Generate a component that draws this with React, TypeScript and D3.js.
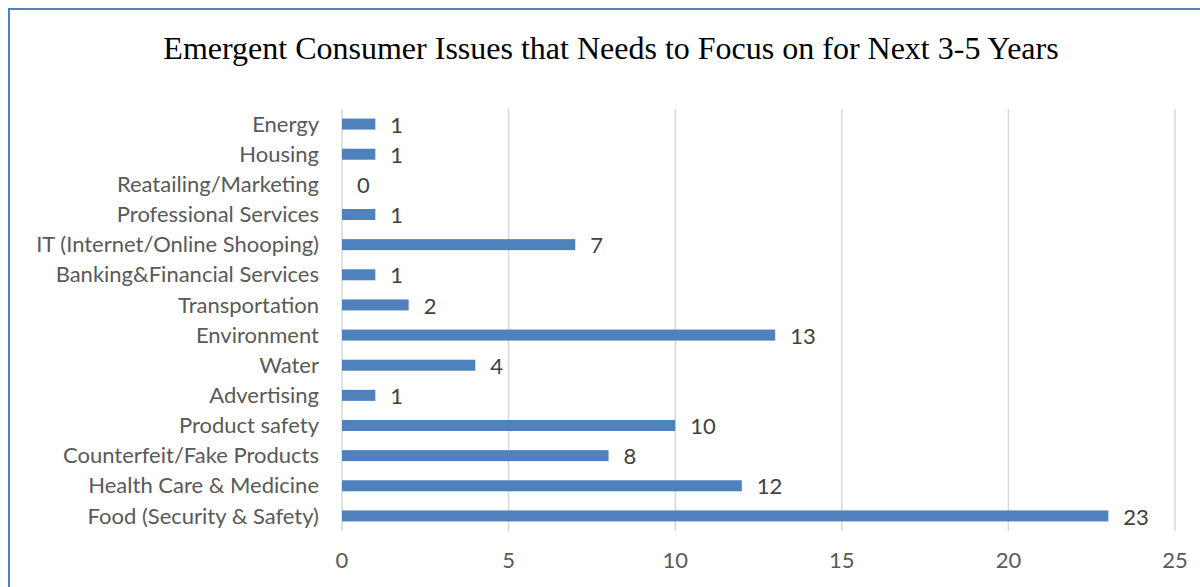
import React from "react";
import * as d3 from "d3";

const categories = [
  "Energy",
  "Housing",
  "Reatailing/Marketing",
  "Professional Services",
  "IT (Internet/Online Shooping)",
  "Banking&Financial Services",
  "Transportation",
  "Environment",
  "Water",
  "Advertising",
  "Product safety",
  "Counterfeit/Fake Products",
  "Health Care & Medicine",
  "Food (Security & Safety)",
];
const values = [1, 1, 0, 1, 7, 1, 2, 13, 4, 1, 10, 8, 12, 23];
const xTicks = [0, 5, 10, 15, 20, 25];
const title = "Emergent Consumer Issues that Needs to Focus on for Next 3-5 Years";

const W = 1200;
const H = 587;
const left = 342;
const right = 1175;
const top = 109;
const bottom = 531;
const labelFont = "Lato, 'Open Sans', sans-serif";

export default function App() {
  const x = d3.scaleLinear().domain([0, 25]).range([left, right]);
  const y = d3.scaleBand().domain(categories).range([top, bottom]).paddingInner(0.635).paddingOuter(0.3175);
  const bh = y.bandwidth();
  return (
    <svg width={W} height={H} style={{ position: "absolute", left: 0, top: 0, background: "#fff" }}>
      <rect x={0} y={0} width={W} height={H} fill="#fff" />
      <rect x={9} y={9} width={1400} height={800} fill="none" stroke="#4f81bd" strokeWidth={2} />
      <text x={611} y={59} textAnchor="middle" fontFamily="'Liberation Serif', 'Times New Roman', serif" fontSize={32} fill="#000">
        {title}
      </text>
      {xTicks.map((t) => (
        <line key={"g" + t} x1={x(t)} x2={x(t)} y1={top} y2={bottom} stroke="#d9d9d9" strokeWidth={1.5} />
      ))}
      {categories.map((c, i) => {
        const cy = (y(c) as number) + bh / 2;
        return (
          <g key={c}>
            <rect x={x(0)} y={cy - bh / 2} width={x(values[i]) - x(0)} height={bh} fill="#4f81bd" />
            <text x={319} y={cy} dy="0.35em" textAnchor="end" fontFamily={labelFont} fontSize={22} fill="#595959">
              {c}
            </text>
            <text x={x(values[i]) + 15} y={cy + 1} dy="0.35em" textAnchor="start" fontFamily={labelFont} fontSize={22} fill="#404040">
              {values[i]}
            </text>
          </g>
        );
      })}
      {xTicks.map((t) => (
        <text key={"t" + t} x={x(t)} y={560} dy="0.35em" textAnchor="middle" fontFamily={labelFont} fontSize={22} fill="#595959">
          {t}
        </text>
      ))}
    </svg>
  );
}
